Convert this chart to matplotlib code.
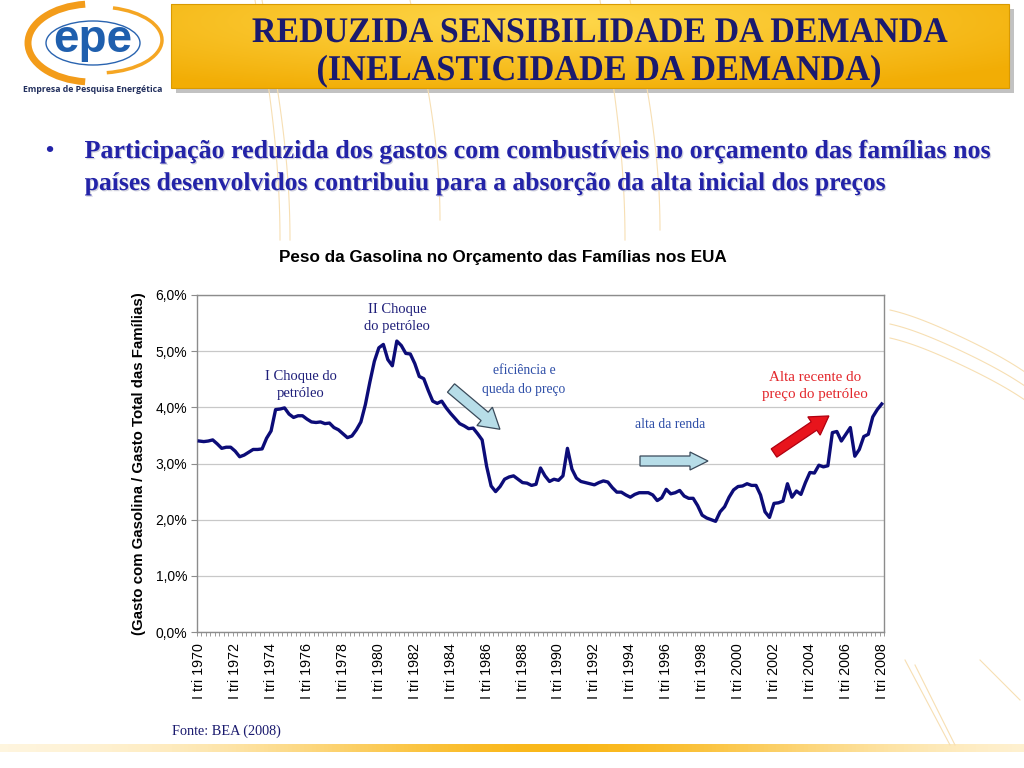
import numpy as np
import matplotlib
matplotlib.use("Agg")
import matplotlib.pyplot as plt
from matplotlib.patches import FancyArrow, Rectangle, Arc, Ellipse, PathPatch
from matplotlib.ticker import FixedLocator
from matplotlib.textpath import TextPath
from matplotlib.font_manager import FontProperties
from matplotlib.transforms import Affine2D

# ---------------- data ----------------
start_year = 1970
# quarterly share of gasoline in US household spending (%), I tri 1970 .. I tri 2008
gas_share = [
    3.40, 3.39, 3.40, 3.42, 3.35, 3.27, 3.29, 3.29, 3.22, 3.12,
    3.15, 3.20, 3.25, 3.25, 3.26, 3.45, 3.58, 3.96, 3.97, 3.99,
    3.88, 3.82, 3.85, 3.85, 3.79, 3.74, 3.73, 3.74, 3.71, 3.72,
    3.64, 3.60, 3.53, 3.46, 3.49, 3.60, 3.74, 4.05, 4.45, 4.82,
    5.06, 5.12, 4.85, 4.74, 5.18, 5.10, 4.96, 4.95, 4.78, 4.55,
    4.51, 4.30, 4.11, 4.07, 4.11, 3.99, 3.89, 3.80, 3.71, 3.67,
    3.62, 3.63, 3.53, 3.42, 2.95, 2.60, 2.50, 2.59, 2.72, 2.76,
    2.78, 2.72, 2.66, 2.65, 2.61, 2.63, 2.92, 2.78, 2.68, 2.72,
    2.70, 2.78, 3.27, 2.90, 2.74, 2.68, 2.66, 2.64, 2.62, 2.66,
    2.69, 2.67, 2.57, 2.49, 2.49, 2.44, 2.40, 2.45, 2.48, 2.48,
    2.48, 2.44, 2.34, 2.39, 2.54, 2.46, 2.48, 2.52, 2.42, 2.38,
    2.38, 2.25, 2.08, 2.03, 2.00, 1.97, 2.14, 2.23, 2.40, 2.53,
    2.59, 2.60, 2.64, 2.61, 2.61, 2.44, 2.14, 2.04, 2.29, 2.30,
    2.33, 2.64, 2.40, 2.51, 2.45, 2.66, 2.84, 2.83, 2.97, 2.94,
    2.96, 3.55, 3.57, 3.40, 3.52, 3.64, 3.13, 3.25, 3.48, 3.52,
    3.83, 3.96, 4.06,
]
ytick_values = [0, 1, 2, 3, 4, 5, 6]
ytick_labels = ["0,0%", "1,0%", "2,0%", "3,0%", "4,0%", "5,0%", "6,0%"]
xtick_years = list(range(1970, 2009, 2))
xtick_labels = [f"I tri {y}" for y in xtick_years]

# ---------------- figure ----------------
W, H = 1024, 768
fig = plt.figure(figsize=(W / 100, H / 100), dpi=100)
fig.patch.set_facecolor("white")

SERIF = ["Liberation Serif", "DejaVu Serif"]
SANS = ["Liberation Sans", "DejaVu Sans"]


def stretched_text(axis, x, y_base, s, width, stretch, color, ha="center",
                   family="Liberation Serif", weight="bold", zorder=5, shadow=None):
    """Draw text as a path, scaled to a given pixel width and stretched vertically."""
    fp = FontProperties(family=family, weight=weight)
    tp = TextPath((0, 0), s, size=32, prop=fp)
    bb = tp.get_extents()
    sx = width / bb.width
    sy = sx * stretch
    x_off = -bb.x0 if ha == "left" else -(bb.x0 + bb.x1) / 2
    if shadow is not None:
        trs = (Affine2D().translate(x_off, 0).scale(sx, -sy)
               .translate(x + 1.2, y_base + 1.2) + axis.transData)
        axis.add_patch(PathPatch(tp, transform=trs, facecolor=shadow,
                                 edgecolor="none", zorder=zorder - 0.1))
    tr = Affine2D().translate(x_off, 0).scale(sx, -sy).translate(x, y_base) + axis.transData
    axis.add_patch(PathPatch(tp, transform=tr, facecolor=color, edgecolor="none", zorder=zorder))


# background / decoration axes (pixel coordinates)
bg = fig.add_axes([0, 0, 1, 1], zorder=0)
bg.set_xlim(0, W)
bg.set_ylim(H, 0)
bg.axis("off")

# faint decorative curves
dec_col = "#f7dfb3"
for (x0, x1, y0, y1) in [(255, 280, 0, 240), (262, 290, 0, 240), (410, 440, 0, 220),
                         (600, 625, 0, 240), (630, 660, 0, 230)]:
    t = np.linspace(0, 1, 50)
    bg.plot(x0 + (x1 - x0) * np.sin(t * np.pi / 2), y0 + (y1 - y0) * t,
            color=dec_col, lw=0.8)
for k in range(3):
    t = np.linspace(0, 1, 60)
    bg.plot(890 + 134 * t, 310 + 14 * k + 60 * t ** 2 + 10 * np.sin(t * 3), color=dec_col, lw=0.8)
bg.plot([905, 950], [660, 745], color=dec_col, lw=0.8)
bg.plot([915, 955], [665, 745], color=dec_col, lw=0.8)
bg.plot([980, 1020], [660, 700], color=dec_col, lw=0.8)

# bottom orange bar with gradient
xs = np.linspace(0, 1, 256)
grad = np.exp(-((xs - 0.55) / 0.3) ** 2)
c0 = np.array([1.0, 0.97, 0.90])
c1 = np.array([0.98, 0.72, 0.10])
bar_img = (c0[None, :] * (1 - grad[:, None]) + c1[None, :] * grad[:, None])[None, :, :]
bg.imshow(bar_img, extent=[0, W, 752, 744], aspect="auto", zorder=1)

# title box with shadow & gradient
bg.add_patch(Rectangle((176, 9), 838, 84, facecolor="#9a9a9a", alpha=0.6, edgecolor="none", zorder=1))
gy, gx = np.mgrid[0:1:100j, 0:1:300j]
r = np.clip(np.sqrt(((gx - 0.45) / 0.7) ** 2 + ((gy - 0.2) / 0.9) ** 2), 0, 1)
cin = np.array([1.0, 0.85, 0.30])
cout = np.array([0.95, 0.68, 0.02])
box_img = cin[None, None, :] * (1 - r[..., None]) + cout[None, None, :] * r[..., None]
bg.imshow(box_img, extent=[171, 1009, 88, 4], aspect="auto", zorder=2)
bg.add_patch(Rectangle((171, 4), 838, 84, facecolor="none", edgecolor="#d99a00", lw=0.8, zorder=3))
stretched_text(bg, 600, 42, "REDUZIDA SENSIBILIDADE DA DEMANDA", 695, 1.06, "#1a1a6e")
stretched_text(bg, 599, 80, "(INELASTICIDADE DA DEMANDA)", 562, 1.06, "#1a1a6e")

# logo
bg.add_patch(Ellipse((93, 43), 94, 44, facecolor="none", edgecolor="#2a64b0", lw=1.0, zorder=2))
bg.add_patch(Arc((92, 43), 128, 78, theta1=100, theta2=260, edgecolor="#f39c1a", lw=5, zorder=2))
bg.add_patch(Arc((98, 40), 128, 66, theta1=-65, theta2=75, edgecolor="#f5a623", lw=2.5, zorder=2))
bg.text(93, 40, "epe", ha="center", va="center", fontsize=33, fontweight="bold",
        family=SANS, color="#1f5fae", zorder=3)
bg.text(93, 90, "Empresa de Pesquisa Energética", ha="center", va="center", fontsize=6.3,
        family=["Open Sans", "DejaVu Sans"], fontweight="bold", color="#23305e", zorder=3)

# bullet text
bullet_col = "#2323a8"
bg.text(45, 152, "•", ha="left", va="center", fontsize=17, fontweight="bold",
        family=SERIF, color=bullet_col)
stretched_text(bg, 85, 158, "Participação reduzida dos gastos com combustíveis no orçamento das famílias nos",
               905, 1.0, bullet_col, ha="left", shadow="#cfd0dc")
stretched_text(bg, 85, 190, "países desenvolvidos contribuiu para a absorção da alta inicial dos preços",
               800, 1.0, bullet_col, ha="left", shadow="#cfd0dc")

# source
bg.text(172, 731, "Fonte: BEA (2008)", ha="left", va="center", fontsize=10.3,
        family=SERIF, color="#1a1a6e")

# ---------------- chart ----------------
L, R, T, B = 197, 884, 295, 632
ax = fig.add_axes([L / W, 1 - B / H, (R - L) / W, (B - T) / H], zorder=2)
ax.set_facecolor("white")
x = np.arange(len(gas_share))
ax.plot(x, gas_share, color="#0c0c78", lw=2.4, solid_joinstyle="round", zorder=3)

ax.set_xlim(-0.5, len(gas_share) - 0.5)
ax.set_ylim(0, 6)
ax.yaxis.set_major_locator(FixedLocator(ytick_values))
ax.set_yticklabels(ytick_labels)
ax.grid(axis="y", color="#c8c8c8", lw=0.9)
ax.set_axisbelow(True)

major_pos = [(y - start_year) * 4 for y in xtick_years]
ax.xaxis.set_major_locator(FixedLocator(major_pos))
ax.set_xticklabels(xtick_labels, rotation=90, family=SANS, fontsize=10.3)
ax.xaxis.set_minor_locator(FixedLocator(np.arange(-0.5, len(gas_share), 1)))
ax.tick_params(axis="x", which="major", length=0, pad=8)
ax.tick_params(axis="x", which="minor", length=3, color="#8c8c8c", width=0.6, direction="out")
ax.tick_params(axis="y", which="major", length=4, color="#8c8c8c", width=0.8,
               labelsize=10, pad=3)
for lab in ax.get_yticklabels():
    lab.set_family(SANS)
for s in ax.spines.values():
    s.set_color("#8c8c8c")
    s.set_linewidth(1.0)

ax.set_ylabel("(Gasto com Gasolina / Gasto Total das Famílias)", fontsize=10.8,
              fontweight="bold", family=SANS, labelpad=7)
fig.text(503 / W, 1 - 257 / H, "Peso da Gasolina no Orçamento das Famílias nos EUA",
         ha="center", va="center", fontsize=12.3, fontweight="bold", family=SANS)

# ---------------- annotations overlay ----------------
ov = fig.add_axes([0, 0, 1, 1], zorder=5)
ov.set_xlim(0, W)
ov.set_ylim(H, 0)
ov.axis("off")
ov.patch.set_alpha(0)

navy = "#1f1f7a"
blue = "#2f4fa8"
red = "#e3262b"
ov.text(301, 385, "I Choque do\npetróleo", ha="center", va="center", fontsize=10.5,
        family=SERIF, color=navy, linespacing=1.45)
ov.text(397, 318, "II Choque\ndo petróleo", ha="center", va="center", fontsize=10.5,
        family=SERIF, color=navy, linespacing=1.45)
ov.text(524, 380, "eficiência e\nqueda do preço", ha="center", va="center", fontsize=9.8,
        family=SERIF, color=blue, linespacing=1.5)
ov.text(670, 424, "alta da renda", ha="center", va="center", fontsize=9.8,
        family=SERIF, color=blue)
ov.text(815, 386, "Alta recente do\npreço do petróleo", ha="center", va="center", fontsize=10.8,
        family=SERIF, color=red, linespacing=1.4)

ov.add_patch(FancyArrow(451, 388, 51 * 0.66, 43 * 0.66, width=11, head_width=24, head_length=20,
                        length_includes_head=False, facecolor="#b7dde8", edgecolor="#3a4a5a", lw=0.9))
ov.add_patch(FancyArrow(640, 461, 50, 0, width=10, head_width=18, head_length=18,
                        length_includes_head=False, facecolor="#b7dde8", edgecolor="#3a4a5a", lw=0.9))
ov.add_patch(FancyArrow(774, 453, 40, -27, width=10, head_width=22, head_length=18,
                        length_includes_head=False, facecolor="#e8141c", edgecolor="#b00010", lw=0.9))

fig.savefig("out.png", dpi=100, facecolor="white")
